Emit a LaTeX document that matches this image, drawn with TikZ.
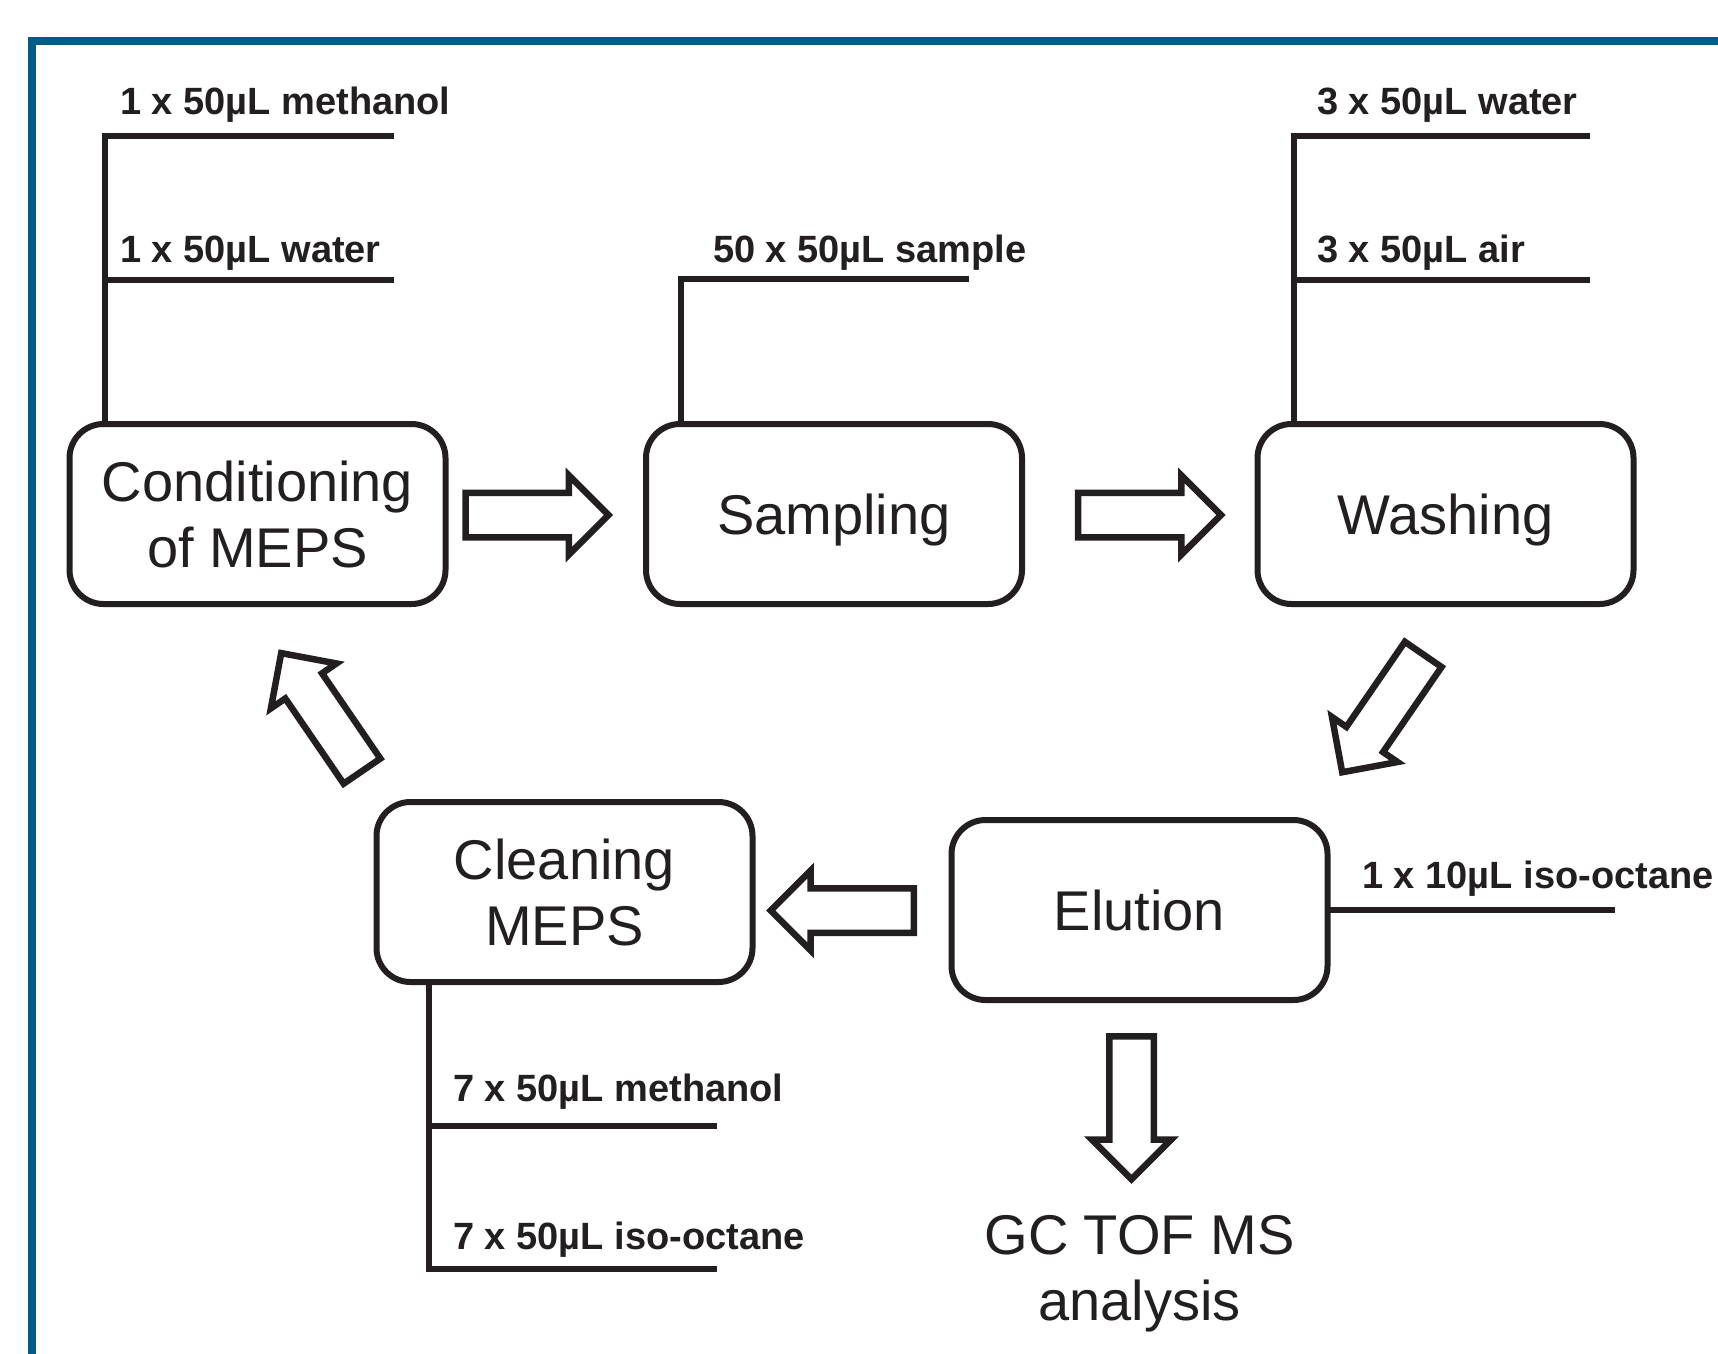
\documentclass[tikz,border=0pt]{standalone}
\usepackage{fontspec}
\setmainfont{Liberation Sans}
\usepackage{tikz}
\usetikzlibrary{shapes.arrows}
\definecolor{ink}{HTML}{231F20}
\definecolor{frameBlue}{HTML}{005B86}
\tikzstyle{stageBox}=[rectangle,rounded corners=34pt,draw=ink,fill=white,line width=6pt,minimum width=376pt,minimum height=180pt,inner sep=0pt,outer sep=0pt,align=center,text depth=0pt,text=ink,font=\fontsize{56}{66}\selectfont]
\tikzstyle{reagentText}=[anchor=base west,inner sep=0pt,text=ink,font=\fontsize{38}{46}\selectfont\bfseries]
\tikzstyle{reagentLine}=[draw=ink,line width=6pt]
\tikzstyle{blockArrow}=[single arrow,draw=ink,fill=white,line width=6.5pt,minimum height=143pt,text height=0pt,text depth=0pt,inner xsep=0pt,inner ysep=19pt,single arrow head extend=17.5pt,single arrow tip angle=90,outer sep=0pt,anchor=tail]
\tikzstyle{frameLine}=[draw=frameBlue,line width=8pt]

\begin{document}
\begin{tikzpicture}[x=1pt,y=-1pt]
	\useasboundingbox (0,0) rectangle (1718,1353);
	\clip (0,0) rectangle (1718,1353);
	\draw[frameLine] (32,41) rectangle (1800,1420);
	% stages
	\node at (257.5,514) [stageBox] (cond) {Conditioning\\of MEPS};
	\node at (834,514) [stageBox] (samp) {Sampling};
	\node at (1445.5,514) [stageBox] (wash) {Washing};
	\node at (1139.5,910) [stageBox] (elu) {Elution};
	\node at (564.5,892) [stageBox] (clean) {Cleaning\\MEPS};
	\node at (1139.5,1274) [align=center,inner sep=0pt,text=ink,font=\fontsize{56}{66}\selectfont] (gc) {GC TOF MS\\analysis};
	% block arrows
	\node at (465.5,515) [blockArrow] (a1) {};
	\node at (1078,515) [blockArrow] (a2) {};
	\node at (1423.2,654.4) [blockArrow,rotate=235.5] (a3) {};
	\node at (913.75,910.5) [blockArrow,rotate=180] (a4) {};
	\node at (362,771.1) [blockArrow,rotate=124.4] (a5) {};
	\node at (1131.5,1036.25) [blockArrow,rotate=270] (a6) {};
	% conditioning
	\coordinate (condCorner) at (105,136);
	\coordinate (condEnd1) at (394,136);
	\coordinate (condEnd2) at (394,280);
	\draw[reagentLine] (cond.north -| condCorner) -- (condCorner) -- (condEnd1);
	\draw[reagentLine] (condCorner |- condEnd2) -- (condEnd2);
	\node at (120,114) [reagentText] (condMeth) {1 x 50µL methanol};
	\node at (120,262) [reagentText] (condWater) {1 x 50µL water};
	% sampling
	\coordinate (sampCorner) at (680.5,279);
	\coordinate (sampEnd) at (969,279);
	\draw[reagentLine] (samp.north -| sampCorner) -- (sampCorner) -- (sampEnd);
	\node at (713,262) [reagentText] (sampSample) {50 x 50µL sample};
	% washing
	\coordinate (washCorner) at (1293.5,136);
	\coordinate (washEnd1) at (1590,136);
	\coordinate (washEnd2) at (1590,280);
	\draw[reagentLine] (wash.north -| washCorner) -- (washCorner) -- (washEnd1);
	\draw[reagentLine] (washCorner |- washEnd2) -- (washEnd2);
	\node at (1317,114) [reagentText] (washWater) {3 x 50µL water};
	\node at (1317,262) [reagentText] (washAir) {3 x 50µL air};
	% elution
	\coordinate (eluEnd) at (1615,910);
	\draw[reagentLine] (elu.east) -- (eluEnd);
	\node at (1362,888) [reagentText] (eluOct) {1 x 10µL iso-octane};
	% cleaning
	\coordinate (cleanCorner) at (429,1269);
	\coordinate (cleanEnd1) at (717,1126);
	\coordinate (cleanEnd2) at (717,1269);
	\draw[reagentLine] (clean.south -| cleanCorner) -- (cleanCorner) -- (cleanEnd2);
	\draw[reagentLine] (cleanCorner |- cleanEnd1) -- (cleanEnd1);
	\node at (453,1101) [reagentText] (cleanMeth) {7 x 50µL methanol};
	\node at (453,1249) [reagentText] (cleanOct) {7 x 50µL iso-octane};
\end{tikzpicture}
\end{document}
